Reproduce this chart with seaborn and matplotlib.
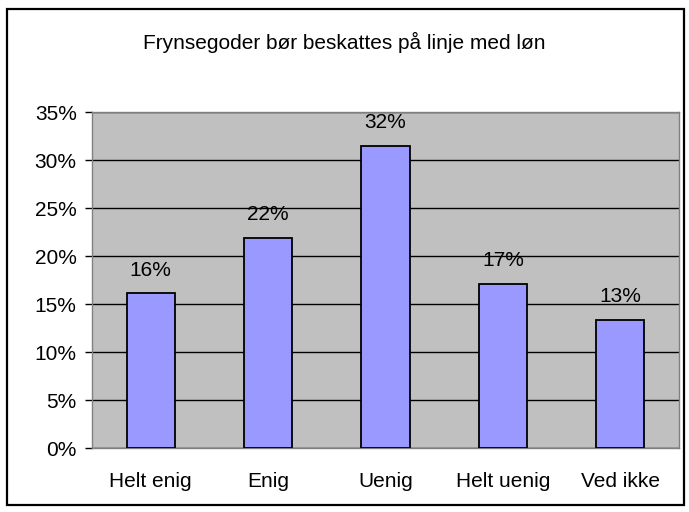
import matplotlib
matplotlib.use("Agg")
import matplotlib.pyplot as plt
import seaborn as sns
import pandas as pd
from matplotlib.patches import Rectangle
from matplotlib.ticker import FuncFormatter, MultipleLocator

categories = ["Helt enig", "Enig", "Uenig", "Helt uenig", "Ved ikke"]
values = [16.1, 21.9, 31.5, 17.1, 13.3]
labels = ["16%", "22%", "32%", "17%", "13%"]
title = "Frynsegoder bør beskattes på linje med løn"

sns.set_style("white")
plt.rcParams['font.family'] = ['Liberation Sans', 'DejaVu Sans']
plt.rcParams['text.color'] = 'black'
plt.rcParams['xtick.labelcolor'] = 'black'
plt.rcParams['ytick.labelcolor'] = 'black'

FS = 15

df = pd.DataFrame({"cat": categories, "val": values})

fig = plt.figure(figsize=(6.89, 5.12), dpi=100)
fig.patch.set_facecolor("white")
ax = fig.add_axes([92/689, 1-448/512, (679-92)/689, (448-112)/512])
ax.set_facecolor("#C0C0C0")

sns.barplot(data=df, x="cat", y="val", color="#9999FF", edgecolor="black",
            linewidth=1.3, width=0.41, saturation=1, ax=ax, zorder=3)

ax.set_ylim(0, 35)
ax.set_xlim(-0.5, len(categories)-0.5)
ax.yaxis.set_major_locator(MultipleLocator(5))
ax.yaxis.set_major_formatter(FuncFormatter(lambda v, p: f"{int(round(v))}%"))
ax.grid(axis="y", color="black", linewidth=1.0, zorder=1)
ax.set_axisbelow(True)
for b in ax.patches:
    b.set_zorder(3)

ax.set_xticks(range(len(categories)))
ax.set_xticklabels(categories)
ax.tick_params(axis="x", length=0, pad=17, labelsize=FS, labelcolor="black")
ax.set_xticks([i - 0.5 for i in range(len(categories)+1)], minor=True)
ax.tick_params(axis="x", which="minor", length=5, width=1, color="#808080", direction="out")
ax.tick_params(axis="y", length=5, width=1, color="black", direction="out", pad=6,
               labelsize=FS, left=True, labelcolor="black")

ax.set_xlabel("")
ax.set_ylabel("")

for s in ax.spines.values():
    s.set_visible(True)
    s.set_color("#808080")
    s.set_linewidth(1.0)

for i, (v, lab) in enumerate(zip(values, labels)):
    ax.annotate(lab, (i, v), xytext=(0, 10), textcoords="offset points",
                ha="center", va="bottom", fontsize=FS, zorder=5, color="black")

fig.text(0.5, 1-42/512, title, ha="center", va="center", fontsize=FS, color="black")

fig.add_artist(Rectangle((7/689, 1-505/512), (684-7)/689, (505-9)/512,
                         transform=fig.transFigure, fill=False,
                         edgecolor="black", linewidth=1.6))

fig.savefig("out.png", dpi=100)
